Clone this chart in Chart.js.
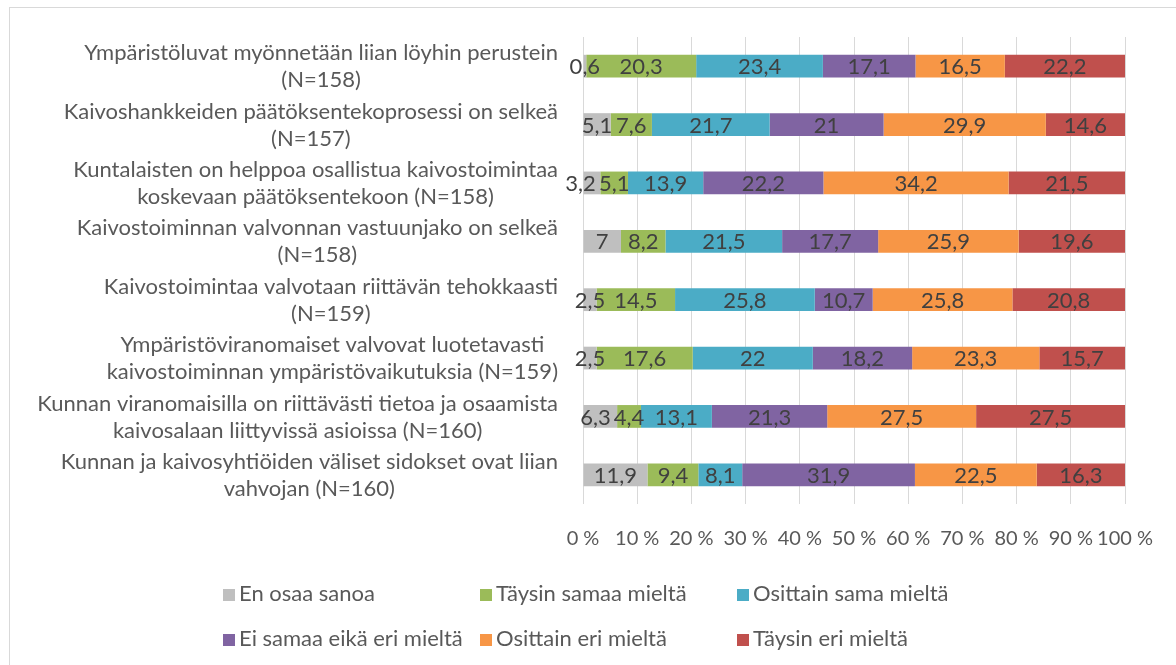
<!DOCTYPE html>
<html>
<head>
<meta charset="utf-8">
<script src="https://cdn.jsdelivr.net/npm/chart.js@4"></script>
<style>
  html, body { margin: 0; padding: 0; background: #fff; }
  #wrap { position: relative; width: 1176px; height: 665px; overflow: hidden; }
  #frame { position: absolute; left: 9px; top: 7px; width: 1200px; height: 700px; border: 1px solid #d9d9d9; }
  #chart { position: absolute; left: 0; top: 0; }
  .lg { position: absolute; font: 22px Lato, sans-serif; color: #595959; white-space: nowrap; line-height: 24px; }
  .lg i { display: inline-block; width: 12px; height: 12px; margin-right: 4px; vertical-align: 0px; }
</style>
</head>
<body>
<div id="wrap">
  <div id="frame"></div>
  <canvas id="chart" width="1176" height="665"></canvas>
  <div id="legend"></div>
</div>
<script>
// statements (top to bottom), each split in lines as in the original
var categories = [
  ['Ympäristöluvat myönnetään liian löyhin perustein', '(N=158)'],
  ['Kaivoshankkeiden päätöksentekoprosessi on selkeä', '(N=157)'],
  ['Kuntalaisten on helppoa osallistua kaivostoimintaa', 'koskevaan päätöksentekoon (N=158)'],
  ['Kaivostoiminnan valvonnan vastuunjako on selkeä', '(N=158)'],
  ['Kaivostoimintaa valvotaan riittävän tehokkaasti', '(N=159)'],
  ['Ympäristöviranomaiset valvovat luotetavasti', 'kaivostoiminnan ympäristövaikutuksia (N=159)'],
  ['Kunnan viranomaisilla on riittävästi tietoa ja osaamista', 'kaivosalaan liittyvissä asioissa (N=160)'],
  ['Kunnan ja kaivosyhtiöiden väliset sidokset ovat liian', 'vahvojan (N=160)']
];

var seriesNames = ['En osaa sanoa', 'Täysin samaa mieltä', 'Osittain sama mieltä',
                   'Ei samaa eikä eri mieltä', 'Osittain eri mieltä', 'Täysin eri mieltä'];
var seriesColors = ['#bfbfbf', '#9bbb59', '#4bacc6', '#8064a2', '#f79646', '#c0504d'];

var enOsaa      = [0.6, 5.1, 3.2, 7, 2.5, 2.5, 6.3, 11.9];
var taysSamaa   = [20.3, 7.6, 5.1, 8.2, 14.5, 17.6, 4.4, 9.4];
var osittSama   = [23.4, 21.7, 13.9, 21.5, 25.8, 22, 13.1, 8.1];
var eiSamaaEri  = [17.1, 21, 22.2, 17.7, 10.7, 18.2, 21.3, 31.9];
var osittEri    = [16.5, 29.9, 34.2, 25.9, 25.8, 23.3, 27.5, 22.5];
var taysEri     = [22.2, 14.6, 21.5, 19.6, 20.8, 15.7, 27.5, 16.3];

var tickValues = [0, 10, 20, 30, 40, 50, 60, 70, 80, 90, 100];

var raw = [enOsaa, taysSamaa, osittSama, eiSamaaEri, osittEri, taysEri];

// 100 % stacked: scale every row to its own total
var totals = categories.map(function (c, i) {
  return raw.reduce(function (s, arr) { return s + arr[i]; }, 0);
});

var datasets = raw.map(function (arr, k) {
  return {
    label: seriesNames[k],
    data: arr.map(function (v, i) { return v / totals[i] * 100; }),
    raw: arr,
    backgroundColor: seriesColors[k],
    borderWidth: 0,
    barPercentage: 0.39,
    categoryPercentage: 1
  };
});

var FONT = 'Lato, sans-serif';

// value labels centred in each segment + the two-line category labels
var labelPlugin = {
  id: 'labels',
  afterDatasetsDraw: function (chart) {
    var ctx = chart.ctx;
    ctx.save();
    ctx.font = '22px ' + FONT;
    ctx.fillStyle = '#404040';
    ctx.textAlign = 'center';
    ctx.textBaseline = 'middle';
    var n = chart.data.datasets.length;
    categories.forEach(function (c, i) {
      // centre each label in its segment, push crowded ones to the left
      var items = [];
      for (var k = 0; k < n; k++) {
        var bar = chart.getDatasetMeta(k).data[i];
        var txt = String(chart.data.datasets[k].raw[i]).replace('.', ',');
        items.push({ t: txt, x: (bar.x + bar.base) / 2, w: ctx.measureText(txt).width, y: bar.y });
      }
      for (var k = n - 2; k >= 0; k--) {
        var limit = items[k + 1].x - items[k + 1].w / 2 - 3;
        if (items[k].x + items[k].w / 2 > limit) items[k].x = limit - items[k].w / 2;
      }
      items.forEach(function (it) { ctx.fillText(it.t, it.x, it.y + 1); });
    });

    var ys = chart.scales.y;
    ctx.fillStyle = '#595959';
    var right = chart.chartArea.left - 25;
    categories.forEach(function (lines, i) {
      var y = ys.getPixelForValue(i);
      var w = Math.max.apply(null, lines.map(function (l) { return ctx.measureText(l).width; }));
      var cx = right - w / 2;
      ctx.fillText(lines[0], cx, y - 13);
      ctx.fillText(lines[1], cx, y + 14);
    });
    ctx.restore();
  }
};

new Chart(document.getElementById('chart'), {
  type: 'bar',
  data: { labels: categories.map(function (c) { return c.join(' '); }), datasets: datasets },
  options: {
    indexAxis: 'y',
    responsive: false,
    animation: false,
    layout: { padding: { left: 575, right: 49, top: 37, bottom: 91 } },
    plugins: { legend: { display: false }, tooltip: { enabled: false } },
    scales: {
      x: {
        stacked: true,
        min: 0, max: 100,
        afterBuildTicks: function (s) { s.ticks = tickValues.map(function (v) { return { value: v }; }); },
        grid: { color: '#d9d9d9', lineWidth: 1, drawTicks: false },
        border: { display: false },
        ticks: {
          padding: 23,
          minRotation: 0,
          maxRotation: 0,
          autoSkip: false,
          color: '#595959',
          font: { family: FONT, size: 20 },
          callback: function (v) { return v + ' %'; }
        }
      },
      y: {
        stacked: true,
        ticks: { display: false },
        grid: { display: false },
        border: { display: false }
      }
    }
  },
  plugins: [labelPlugin]
});

// legend, 3 per row like the original
var legendPos = [[223, 581], [480, 581], [737, 581], [223, 626], [480, 626], [737, 626]];
var legend = document.getElementById('legend');
seriesNames.forEach(function (name, k) {
  var d = document.createElement('div');
  d.className = 'lg';
  d.style.left = legendPos[k][0] + 'px';
  d.style.top = legendPos[k][1] + 'px';
  d.innerHTML = '<i style="background:' + seriesColors[k] + '"></i>' + name;
  legend.appendChild(d);
});
</script>
</body>
</html>
